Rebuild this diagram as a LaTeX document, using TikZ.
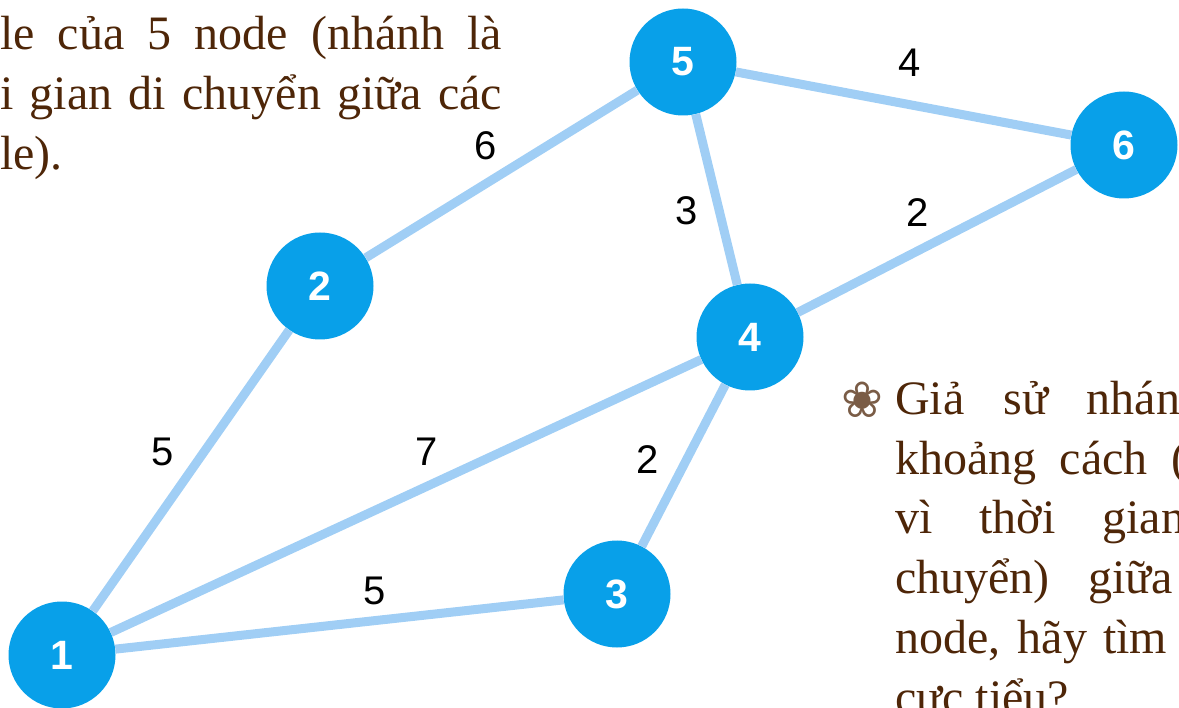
\documentclass[tikz,border=0pt]{standalone}
\usepackage{fontspec}
\usepackage{xcolor}
\setmainfont{Liberation Serif}
\newfontfamily\labelfont{Liberation Sans}
\newfontfamily\symfont{DejaVu Sans}
\definecolor{graphblue}{RGB}{8, 160, 233}
\definecolor{graphlightblue}{RGB}{160, 206, 245}
\definecolor{textbrown}{RGB}{78, 38, 8}

\begin{document}
\begin{tikzpicture}[
    x=1pt, y=-1pt,
    vertex/.style={
        circle, fill=graphblue, inner sep=0pt,
        minimum size=107pt, text=white,
        font=\labelfont\bfseries\fontsize{41}{41}\selectfont
    },
    weight/.style={inner sep=0pt, text=black, font=\labelfont\fontsize{40}{40}\selectfont},
    edge/.style={draw=graphlightblue, line width=9pt},
    body/.style={inner sep=0pt, anchor=base west, text=textbrown, font=\fontsize{48}{60}\selectfont}
]
    \useasboundingbox (0,0) rectangle (1179,708);

    \node[vertex] (n1) at (62,655) {1};
    \node[vertex] (n2) at (320,286) {2};
    \node[vertex] (n3) at (617,594) {3};
    \node[vertex] (n4) at (750,337) {4};
    \node[vertex] (n5) at (683,62) {5};
    \node[vertex] (n6) at (1124,145) {6};

    \draw[edge] (n1) -- (n2);
    \draw[edge] (n1) -- (n4);
    \draw[edge] (n1) -- (n3);
    \draw[edge] (n2) -- (n5);
    \draw[edge] (n5) -- (n6);
    \draw[edge] (n5) -- (n4);
    \draw[edge] (n4) -- (n6);
    \draw[edge] (n4) -- (n3);

    \node[weight] (w12) at (163,452) {5};
    \node[weight] (w14) at (427,452) {7};
    \node[weight] (w13) at (375,591) {5};
    \node[weight] (w25) at (486,146) {6};
    \node[weight] (w56) at (910,63) {4};
    \node[weight] (w54) at (687,211) {3};
    \node[weight] (w46) at (918,213) {2};
    \node[weight] (w43) at (648,460) {2};

    % text left of the graph
    \node[body] (t1) at (0,50) {\makebox[502pt][s]{le của 5 node (nhánh là}};
    \node[body] (t2) at (0,110) {\makebox[502pt][s]{i gian di chuyển giữa các}};
    \node[body] (t3) at (0,170) {le).};

    % text right of the graph
    \node[text=textbrown!75, font=\symfont\fontsize{50}{50}\selectfont] (fl) at (862,400) {❀};
    \node[body] (r1) at (895,415) {\makebox[285pt][s]{Giả sử nhán}};
    \node[body] (r2) at (895,475) {\makebox[292pt][s]{khoảng cách (}};
    \node[body] (r3) at (895,534) {\makebox[290pt][s]{vì thời gian}};
    \node[body] (r4) at (895,594) {\makebox[278pt][s]{chuyển) giữa}};
    \node[body] (r5) at (895,653) {\makebox[272pt][s]{node, hãy tìm}};
    \node[body] (r6) at (895,713) {cực tiểu?};
\end{tikzpicture}
\end{document}
